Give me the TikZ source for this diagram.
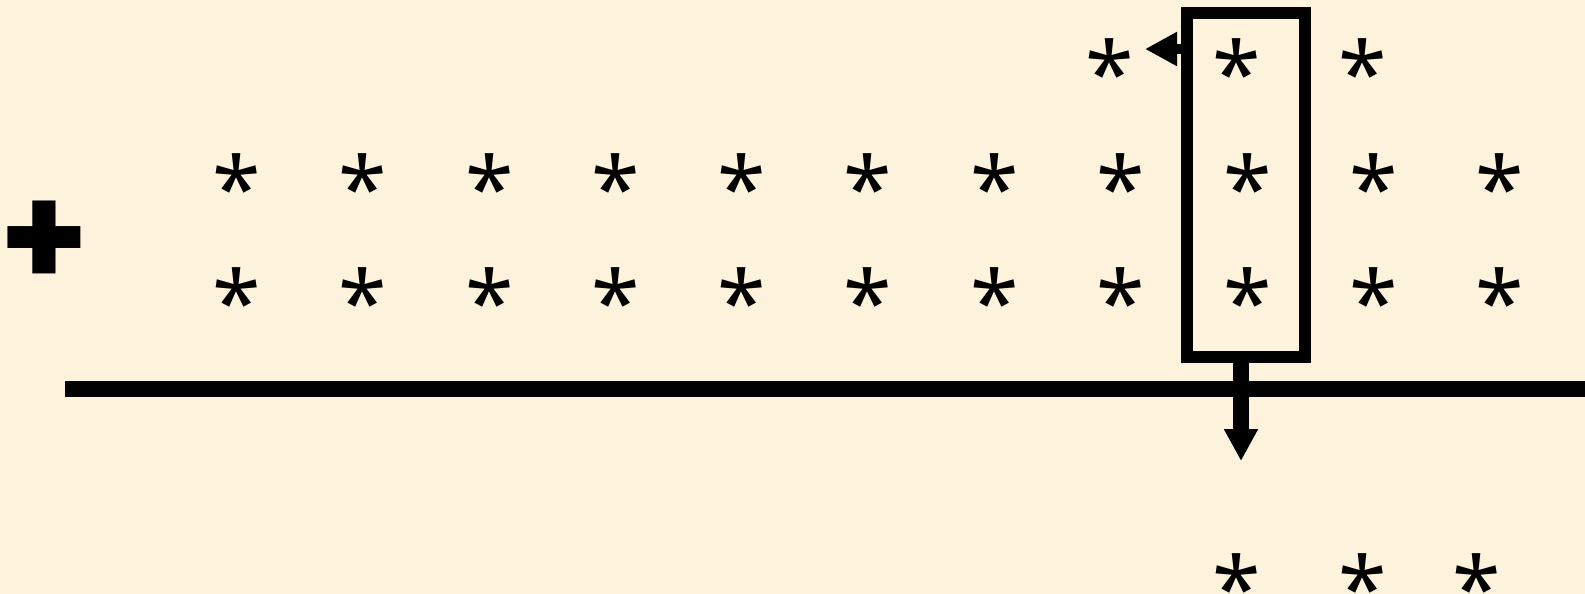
\documentclass[tikz,border=0pt]{standalone}
\usepackage{fontspec}
\setmainfont{Noto Sans}
\newfontfamily\plusfont{Poppins}
\usetikzlibrary{arrows.meta}
\usetikzlibrary{positioning}
\definecolor{paper}{RGB}{253,243,220}

\begin{document}
\begin{tikzpicture}[
x=1pt, y=-1pt,
every node/.style={inner sep=0, outer sep=0},
star/.style={font=\bfseries\fontsize{88}{88}\selectfont, anchor=center, yshift=-16pt},
plus/.style={font=\plusfont\bfseries\fontsize{143}{143}\selectfont, anchor=center, yshift=-9pt},
tip/.style={-{Triangle[length=32pt, width=32pt]}}
]
\useasboundingbox[fill=paper] (0,0) rectangle (1585,594);
\node[plus] (sum) at (44,235) {+};
% two long rows
\node[star] (a1) at (237,171) {*};
\node[star] (a2) at (363,171) {*};
\node[star] (a3) at (490,171) {*};
\node[star] (a4) at (616,171) {*};
\node[star] (a5) at (742,171) {*};
\node[star] (a6) at (868,171) {*};
\node[star] (a7) at (995,171) {*};
\node[star] (a8) at (1121,171) {*};
\node[star] (a9) at (1248,171) {*};
\node[star] (a10) at (1374,171) {*};
\node[star] (a11) at (1500,171) {*};
\node[star] (b1) at (237,285) {*};
\node[star] (b2) at (363,285) {*};
\node[star] (b3) at (490,285) {*};
\node[star] (b4) at (616,285) {*};
\node[star] (b5) at (742,285) {*};
\node[star] (b6) at (868,285) {*};
\node[star] (b7) at (995,285) {*};
\node[star] (b8) at (1121,285) {*};
\node[star] (b9) at (1248,285) {*};
\node[star] (b10) at (1374,285) {*};
\node[star] (b11) at (1500,285) {*};
% top and bottom rows
\node[star] (t1) at (1110,56) {*};
\node[star] (t2) at (1237,56) {*};
\node[star] (t3) at (1363,56) {*};
\node[star] (u1) at (1237,571) {*};
\node[star] (u2) at (1363,571) {*};
\node[star] (u3) at (1477,571) {*};
% window
\node[draw, line width=12pt, minimum width=118pt, minimum height=344pt] (win) at (1246,185) {};
\coordinate (lefttip) at (1145,49);
\coordinate (downtip) at (1241,461);
\draw[tip, line width=10pt] (win.west |- lefttip) to (lefttip);
\draw[tip, line width=16pt] (win.south -| downtip) to (downtip);
\coordinate (barL) at (65,389);
\coordinate (barR) at (1585,389);
\draw[line width=16pt] (barL) to (barR);
\end{tikzpicture}
\end{document}
